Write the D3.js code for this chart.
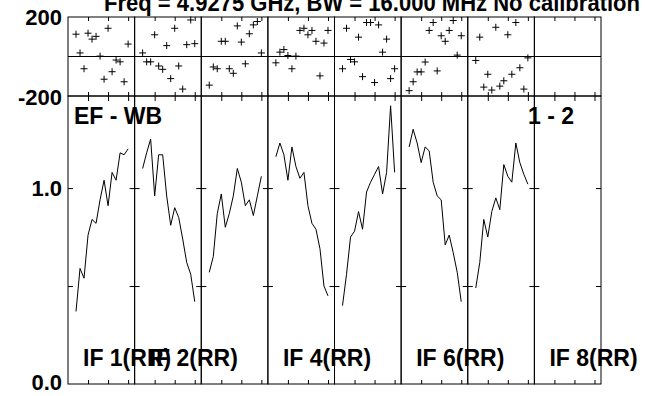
<!DOCTYPE html>
<html>
<head>
<meta charset="utf-8">
<script src="https://cdn.jsdelivr.net/npm/d3@7"></script>
<style>
  body { margin: 0; background: #fff; }
  text { font-family: "Liberation Sans", Arial, sans-serif; font-weight: bold; fill: #000; }
</style>
</head>
<body>
<div id="chart"></div>
<script>
// data: channels 2..15 for each IF, amplitude + phase (deg)
var channels = [2, 3, 4, 5, 6, 7, 8, 9, 10, 11, 12, 13, 14, 15];
var ifLabels = ["IF 1(RR)", "IF 2(RR)", "", "IF 4(RR)", "", "IF 6(RR)", "", "IF 8(RR)"];
var chanTicks = [5, 10, 15];
var ampTicks = [0.5, 1.0];
var ampTickLabels = ["0.0", "1.0"];
var phaseTickLabels = ["200", "-200"];

var amp1 = [0.37, 0.59, 0.54, 0.76, 0.84, 0.82, 0.94, 1.04, 0.91, 1.08, 1.04, 1.18, 1.17, 1.20];
var amp2 = [1.10, 1.18, 1.25, 0.96, 1.17, 1.17, 0.96, 0.81, 0.90, 0.85, 0.74, 0.62, 0.56, 0.42];
var amp3 = [0.57, 0.65, 0.87, 0.97, 0.80, 0.87, 0.96, 1.10, 1.03, 0.91, 0.94, 0.86, 0.96, 1.06];
var amp4 = [1.16, 1.23, 1.17, 1.04, 1.21, 1.11, 1.05, 1.08, 0.91, 0.82, 0.79, 0.69, 0.50, 0.45];
var amp5 = [0.40, 0.56, 0.75, 0.78, 0.88, 0.79, 0.98, 1.03, 1.07, 1.11, 0.97, 1.08, 1.42, 1.08];
var amp6 = [1.21, 1.30, 1.23, 1.13, 1.21, 1.19, 1.03, 0.96, 0.94, 0.71, 0.76, 0.67, 0.57, 0.42];
var amp7 = [0.49, 0.62, 0.84, 0.75, 0.88, 0.95, 0.89, 1.12, 1.06, 1.03, 1.23, 1.13, 1.07, 1.02];

var phase1 = [113, 18, -62, 118, 88, 102, 2, -115, 143, -77, -18, -27, -128, 63];
var phase2 = [18, -27, -27, 110, -48, -65, 55, -112, 143, -48, -165, 60, 185, 65];
var phase3 = [-145, -53, -62, 77, 77, -62, -85, 155, 73, -37, 115, 160, 177, 18];
var phase4 = [-32, 22, 35, 5, -62, 2, 132, 143, 110, 132, 77, -98, 68, 132];
var phase5 = [-62, 143, -15, -27, 98, -102, 172, 172, -132, 160, 22, 88, -112, -62];
var phase6 = [-173, -128, -78, -78, -28, 132, 172, -73, 105, 77, 132, 182, 7, 105];
var phase7 = [-20, 98, -155, -90, -170, 148, -150, -123, 110, -90, 172, -57, -165, -7];

var amps = [amp1, amp2, amp3, amp4, amp5, amp6, amp7, []];
var phases = [phase1, phase2, phase3, phase4, phase5, phase6, phase7, []];

// layout
var left = 68, right = 601,
    phTop = 17, phBot = 96,
    ampTop = 96, ampBot = 384;
var nPanels = 8;
var pw = (right - left) / nPanels;

var svg = d3.select("#chart")
    .append("svg")
    .attr("width", 645)
    .attr("height", 396);

var yPh = d3.scaleLinear().domain([-200, 200]).range([phBot, phTop]);
var yAmp = d3.scaleLinear().domain([0, 1.47]).range([ampBot, ampTop]);

var line = d3.line();

for (var p = 0; p < nPanels; p++) {
    var x0 = left + p * pw;
    var x = d3.scaleLinear().domain([0, 16.625]).range([x0, x0 + pw]);
    var g = svg.append("g");

    // frames
    g.append("rect").attr("x", x0).attr("y", phTop).attr("width", pw).attr("height", phBot - phTop)
        .attr("fill", "none").attr("stroke", "#000").attr("stroke-width", 1);
    g.append("rect").attr("x", x0).attr("y", ampTop).attr("width", pw).attr("height", ampBot - ampTop)
        .attr("fill", "none").attr("stroke", "#000").attr("stroke-width", 1);
    g.append("line").attr("x1", x0).attr("x2", x0 + pw)
        .attr("y1", yPh(0)).attr("y2", yPh(0)).attr("stroke", "#000");

    // ticks
    var ax = [
        [d3.axisBottom(x), phTop, 4], [d3.axisTop(x), phBot, 4],
        [d3.axisBottom(x), ampTop, 5], [d3.axisTop(x), ampBot, 4]
    ];
    ax.forEach(function (a) {
        g.append("g")
            .attr("transform", "translate(0," + a[1] + ")")
            .call(a[0].tickValues(chanTicks).tickSize(a[2]).tickSizeOuter(0).tickFormat(""))
            .call(function (s) { s.select(".domain").remove(); });
    });
    g.append("g").attr("transform", "translate(" + x0 + ",0)")
        .call(d3.axisRight(yAmp).tickValues(ampTicks).tickSize(5).tickSizeOuter(0).tickFormat(""))
        .call(function (s) { s.select(".domain").remove(); });
    g.append("g").attr("transform", "translate(" + (x0 + pw) + ",0)")
        .call(d3.axisLeft(yAmp).tickValues(ampTicks).tickSize(5).tickSizeOuter(0).tickFormat(""))
        .call(function (s) { s.select(".domain").remove(); });

    // amplitude line
    var pts = amps[p].map(function (v, i) { return [x(channels[i]), yAmp(v)]; });
    if (pts.length) {
        g.append("path").attr("d", line(pts)).attr("fill", "none")
            .attr("stroke", "#000").attr("stroke-width", 1);
    }

    // phase crosses
    g.selectAll(".cross")
        .data(phases[p])
        .enter()
        .append("path")
        .attr("class", "cross")
        .attr("d", function (v, i) {
            var cx = x(channels[i]), cy = yPh(v);
            return "M" + (cx - 3.5) + "," + cy + "H" + (cx + 3.5) + "M" + cx + "," + (cy - 3.5) + "V" + (cy + 3.5);
        })
        .attr("stroke", "#000").attr("stroke-width", 1);

    if (ifLabels[p]) {
        g.append("text").attr("x", x0 + 15).attr("y", 366)
            .style("font-size", "23px").text(ifLabels[p]);
    }
}

// axis labels
svg.append("text").attr("x", 62).attr("y", yPh(200) + 8).attr("text-anchor", "end")
    .style("font-size", "22px").text(phaseTickLabels[0]);
svg.append("text").attr("x", 62).attr("y", yPh(-200) + 9).attr("text-anchor", "end")
    .style("font-size", "22px").text(phaseTickLabels[1]);
svg.append("text").attr("x", 62).attr("y", yAmp(1.0) + 8).attr("text-anchor", "end")
    .style("font-size", "22px").text(ampTickLabels[1]);
svg.append("text").attr("x", 62).attr("y", yAmp(0) + 6).attr("text-anchor", "end")
    .style("font-size", "22px").text(ampTickLabels[0]);

// titles
svg.append("text").attr("x", 104).attr("y", 11).style("font-size", "23px")
    .attr("textLength", 536).attr("lengthAdjust", "spacingAndGlyphs")
    .text("Freq = 4.9275 GHz, BW = 16.000 MHz  No calibration");
svg.append("text").attr("x", 74).attr("y", 124).style("font-size", "23px").text("EF - WB");
svg.append("text").attr("x", 528).attr("y", 124).style("font-size", "23px").text("1 - 2");
</script>
</body>
</html>
